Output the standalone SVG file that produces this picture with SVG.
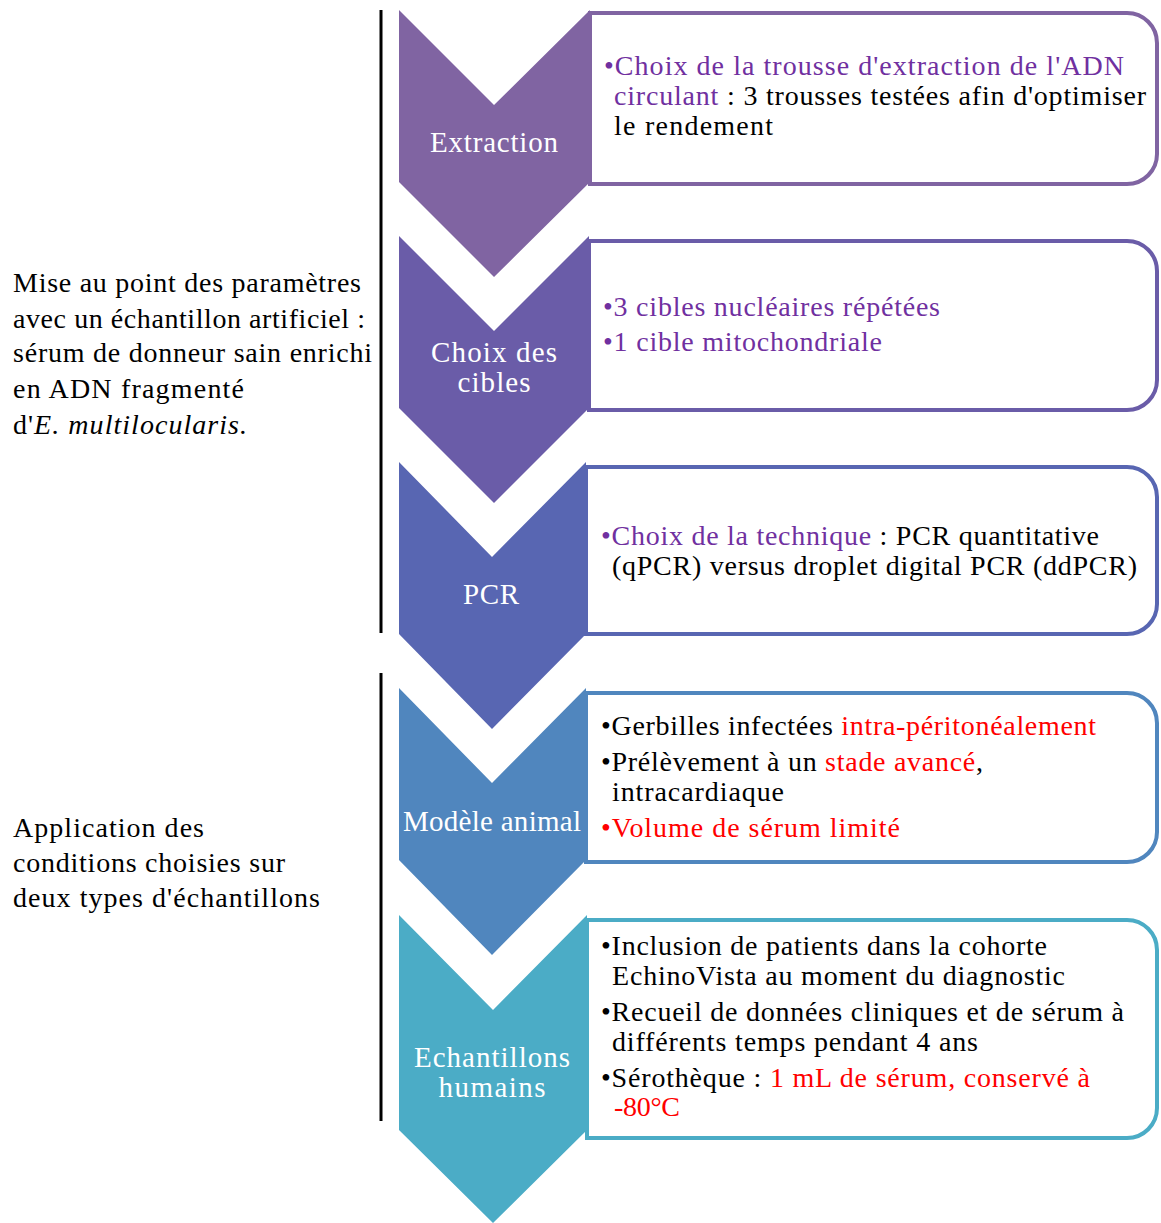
<svg xmlns="http://www.w3.org/2000/svg" width="1161" height="1223" viewBox="0 0 1161 1223">
<style>
text{font-family:"Liberation Serif","Times New Roman",serif;font-size:28px;fill:#000}
.lbl{fill:#fff;font-size:29px;text-anchor:middle}
.pu{fill:#7030A0}
.rd{fill:#FF0000}
.box{fill:#fff;stroke-width:4}
.br{stroke:#000;stroke-width:3;fill:none}
</style>
<rect width="1161" height="1223" fill="#fff"/>
<g id="brackets">
<line class="br" x1="381" y1="10" x2="381" y2="633"/>
<line class="br" x1="381" y1="673" x2="381" y2="1121"/>
</g>
<g id="left-labels">
<text x="13" y="292" textLength="348" lengthAdjust="spacing">Mise au point des paramètres</text>
<text x="13" y="328" textLength="352" lengthAdjust="spacing">avec un échantillon artificiel :</text>
<text x="13" y="362" textLength="359" lengthAdjust="spacing">sérum de donneur sain enrichi</text>
<text x="13" y="398" textLength="231" lengthAdjust="spacing">en ADN fragmenté</text>
<text x="13" y="434" textLength="234" lengthAdjust="spacing">d'<tspan font-style="italic">E. multilocularis.</tspan></text>
<text x="13" y="837" textLength="191" lengthAdjust="spacing">Application des</text>
<text x="13" y="872" textLength="272" lengthAdjust="spacing">conditions choisies sur</text>
<text x="13" y="907" textLength="307" lengthAdjust="spacing">deux types d'échantillons</text>
</g>
<g id="extraction">
<path d="M399 10 L494 105 L590 10 V182 L494 277 L399 182 Z" fill="#8064A2"/>
<path class="box" stroke="#8064A2" d="M590 13 H1127 A30 30 0 0 1 1157 43 V154 A30 30 0 0 1 1127 184 H590 Z"/>
<text class="lbl" x="494" y="152" textLength="128" lengthAdjust="spacing">Extraction</text>
<text x="604" y="75" textLength="520" lengthAdjust="spacing" class="pu">•Choix de la trousse d'extraction de l'ADN</text>
<text x="614" y="105" textLength="532" lengthAdjust="spacing"><tspan class="pu">circulant</tspan> : 3 trousses testées afin d'optimiser</text>
<text x="614" y="135" textLength="159" lengthAdjust="spacing">le rendement</text>
</g>
<g id="choix-cibles">
<path d="M399 236 L494 331 L589 236 V408 L494 503 L399 408 Z" fill="#6A5CA8"/>
<path class="box" stroke="#6A5CA8" d="M589 241 H1127 A30 30 0 0 1 1157 271 V380 A30 30 0 0 1 1127 410 H589 Z"/>
<text class="lbl" x="494" y="362" textLength="126" lengthAdjust="spacing">Choix des</text>
<text class="lbl" x="494" y="392" textLength="73" lengthAdjust="spacing">cibles</text>
<text x="603" y="316" textLength="337" lengthAdjust="spacing" class="pu">•3 cibles nucléaires répétées</text>
<text x="603" y="351" textLength="279" lengthAdjust="spacing" class="pu">•1 cible mitochondriale</text>
</g>
<g id="pcr">
<path d="M399 462 L492 557 L586 462 V634 L492 729 L399 634 Z" fill="#5866B2"/>
<path class="box" stroke="#5866B2" d="M586 467 H1127 A30 30 0 0 1 1157 497 V604 A30 30 0 0 1 1127 634 H586 Z"/>
<text class="lbl" x="491" y="604" textLength="56" lengthAdjust="spacing">PCR</text>
<text x="601" y="545" textLength="498" lengthAdjust="spacing"><tspan class="pu">•Choix de la technique</tspan> : PCR quantitative</text>
<text x="612" y="575" textLength="525" lengthAdjust="spacing">(qPCR) versus droplet digital PCR (ddPCR)</text>
</g>
<g id="modele-animal">
<path d="M399 688 L492 783 L586 688 V860 L492 955 L399 860 Z" fill="#5086BE"/>
<path class="box" stroke="#5086BE" d="M586 693 H1127 A30 30 0 0 1 1157 723 V832 A30 30 0 0 1 1127 862 H586 Z"/>
<text class="lbl" x="492" y="831" textLength="178" lengthAdjust="spacing">Modèle animal</text>
<text x="601" y="735" textLength="495" lengthAdjust="spacing">•Gerbilles infectées <tspan class="rd">intra-péritonéalement</tspan></text>
<text x="601" y="771" textLength="382" lengthAdjust="spacing">•Prélèvement à un <tspan class="rd">stade avancé</tspan>,</text>
<text x="612" y="801" textLength="172" lengthAdjust="spacing">intracardiaque</text>
<text x="601" y="837" textLength="299" lengthAdjust="spacing" class="rd">•Volume de sérum limité</text>
</g>
<g id="echantillons-humains">
<path d="M399 915 L493 1010 L587 915 V1130 L493 1223 L399 1130 Z" fill="#4BACC6"/>
<path class="box" stroke="#4BACC6" d="M587 920 H1127 A30 30 0 0 1 1157 950 V1108 A30 30 0 0 1 1127 1138 H587 Z"/>
<text class="lbl" x="492" y="1067" textLength="156" lengthAdjust="spacing">Echantillons</text>
<text class="lbl" x="492" y="1097" textLength="107" lengthAdjust="spacing">humains</text>
<text x="601" y="955" textLength="446" lengthAdjust="spacing">•Inclusion de patients dans la cohorte</text>
<text x="612" y="985" textLength="453" lengthAdjust="spacing">EchinoVista au moment du diagnostic</text>
<text x="601" y="1021" textLength="523" lengthAdjust="spacing">•Recueil de données cliniques et de sérum à</text>
<text x="612" y="1051" textLength="366" lengthAdjust="spacing">différents temps pendant 4 ans</text>
<text x="601" y="1087" textLength="489" lengthAdjust="spacing">•Sérothèque : <tspan class="rd">1 mL de sérum, conservé à</tspan></text>
<text x="614" y="1116" textLength="66" lengthAdjust="spacing" class="rd">-80°C</text>
</g>
</svg>
